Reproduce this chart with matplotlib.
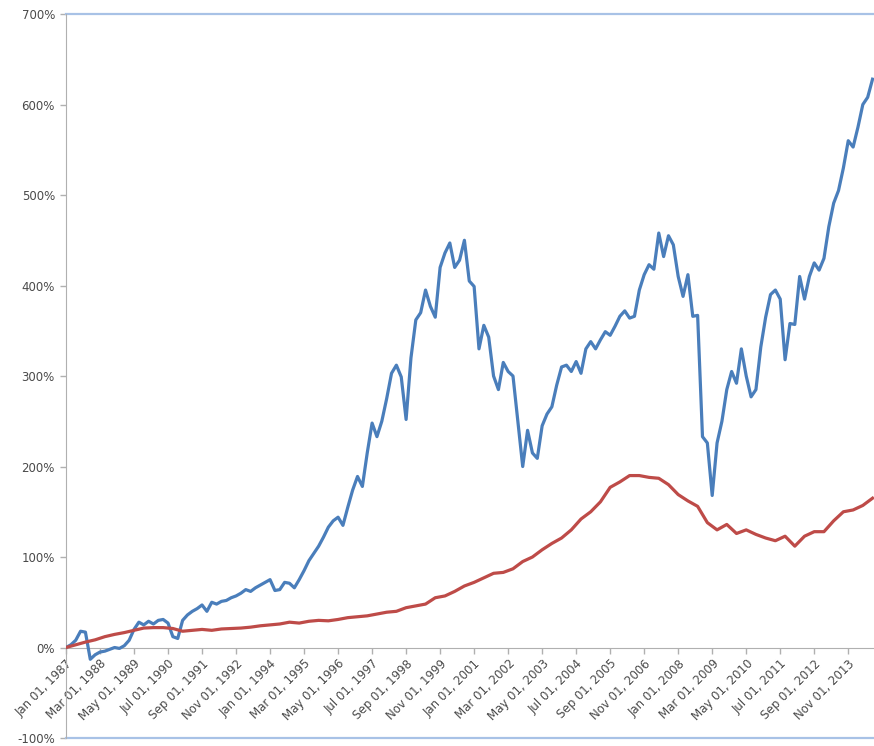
import numpy as np
import matplotlib.pyplot as plt
from matplotlib.ticker import FuncFormatter

# blue series, one value every 2 months from Jan 1987 (percent)
blue_step = 2
blue = [0, 3, 8, 18, 17, -13, -8, -5, -4, -2,
        0, -1, 2, 8, 20, 28, 25, 29, 26, 30,
        31, 27, 12, 10, 30, 36, 40, 43, 47, 40,
        50, 48, 51, 52, 55, 57, 60, 64, 62, 66,
        69, 72, 75, 63, 64, 72, 71, 66, 75, 85,
        96, 104, 112, 122, 133, 140, 144, 135, 155, 174,
        189, 178, 215, 248, 233, 250, 275, 303, 312, 299,
        252, 320, 362, 370, 395, 377, 365, 420, 436, 447,
        420, 428, 450, 405, 399, 330, 356, 343, 300, 285,
        315, 305, 300, 250, 200, 240, 215, 209, 245, 258,
        266, 290, 310, 312, 305, 316, 303, 330, 338, 330,
        340, 349, 345, 355, 366, 372, 364, 366, 395, 412,
        423, 418, 458, 432, 455, 445, 410, 388, 412, 366,
        367, 233, 226, 168, 226, 250, 285, 305, 292, 330,
        300, 277, 285, 332, 365, 390, 395, 385, 318, 358,
        357, 410, 385, 410, 425, 417, 430, 465, 491, 505,
        530, 560, 553, 575, 600, 608, 628]

# red series, one value every 4 months from Jan 1987 (percent)
red_step = 4
red = [0, 3, 6, 8.5, 12, 14.5, 16.5, 19, 21.5, 22,
       22, 21, 18, 19, 20, 19, 20.5, 21, 21.5, 22.5,
       24, 25, 26, 28, 27, 29, 30, 29.5, 31, 33,
       34, 35, 37, 39, 40, 44, 46, 48, 55, 57,
       62, 68, 72, 77, 82, 83, 87, 95, 100, 108,
       115, 121, 130, 142, 150, 161, 177, 183, 190, 190,
       188, 187, 180, 169, 162, 156, 138, 130, 136, 126,
       130, 125, 121, 118, 123, 112, 123, 128, 128, 140,
       150, 152, 157, 165]

tick_labels = ["Jan 01, 1987", "Mar 01, 1988", "May 01, 1989", "Jul 01, 1990",
               "Sep 01, 1991", "Nov 01, 1992", "Jan 01, 1994", "Mar 01, 1995",
               "May 01, 1996", "Jul 01, 1997", "Sep 01, 1998", "Nov 01, 1999",
               "Jan 01, 2001", "Mar 01, 2002", "May 01, 2003", "Jul 01, 2004",
               "Sep 01, 2005", "Nov 01, 2006", "Jan 01, 2008", "Mar 01, 2009",
               "May 01, 2010", "Jul 01, 2011", "Sep 01, 2012", "Nov 01, 2013"]
tick_every = 14  # months between labels

blue_x = np.arange(len(blue)) * blue_step
red_x = np.arange(len(red)) * red_step

fig = plt.figure(figsize=(8.74, 7.46), dpi=100)
ax = fig.add_axes([0.0755, 0.0107, 0.9245, 0.9705])

# x axis crosses at 0% (set before the ticks, it resets them)
ax.spines["bottom"].set_position(("data", 0))
ax.spines["bottom"].set_color("#b0b0b0")
ax.spines["left"].set_color("#b0b0b0")
ax.spines["right"].set_visible(False)
ax.spines["top"].set_visible(False)

ax.plot(blue_x, blue, color="#4a7ebb", lw=2.3, zorder=3)
ax.plot(red_x, red, color="#be4b48", lw=2.3, zorder=3)

ax.set_xlim(0, 332.6)
ax.set_ylim(-100, 700)
ax.set_yticks(np.arange(-100, 701, 100))
ax.yaxis.set_major_formatter(FuncFormatter(lambda v, p: "%d%%" % v))

ax.set_xticks(np.arange(len(tick_labels)) * tick_every)
ax.set_xticklabels(tick_labels)
plt.setp(ax.get_xticklabels(), rotation=45, ha="right", rotation_mode="anchor")

ax.axhline(700, color="#a8c2e6", lw=1.6, clip_on=False)
ax.axhline(-100, color="#a8c2e6", lw=1.6, clip_on=False)

ax.tick_params(axis="both", colors="#b0b0b0", labelcolor="#4a4a4a",
               labelsize=8.5, length=4, width=1)
ax.tick_params(axis="y", pad=4)
ax.tick_params(axis="x", pad=3)

fig.savefig("out.png", dpi=100)
